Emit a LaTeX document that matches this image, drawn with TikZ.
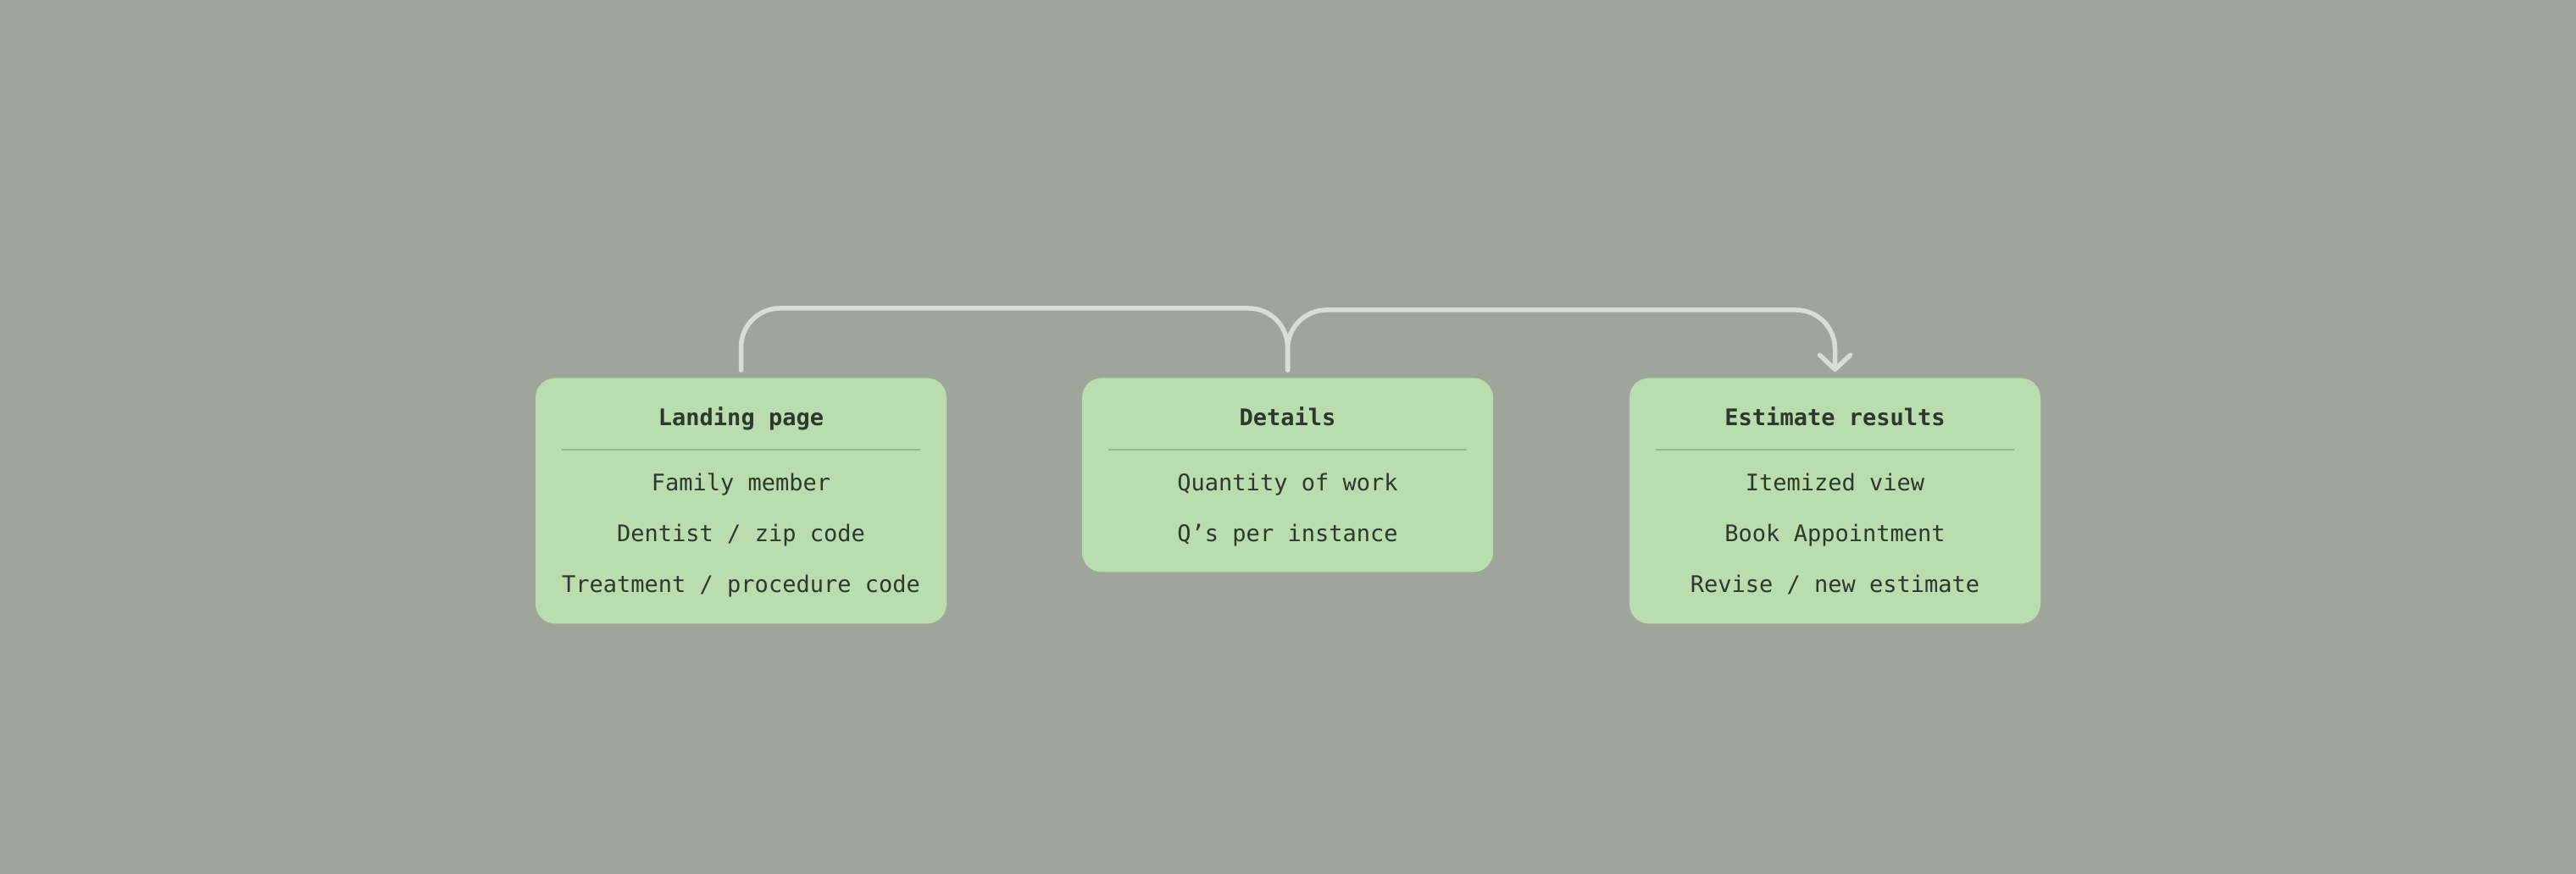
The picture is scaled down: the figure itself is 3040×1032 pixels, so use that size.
\documentclass[tikz,border=0pt]{standalone}
\usepackage{fontspec}
\setmonofont{DejaVu Sans Mono}
\usetikzlibrary{arrows.meta,positioning,calc}

\definecolor{bgsage}{HTML}{9EA59B}
\definecolor{cardgreen}{HTML}{B9DDAE}
\definecolor{rulegreen}{HTML}{97BB8D}
\definecolor{inkdark}{HTML}{2C3A2C}
\definecolor{linkgrey}{HTML}{D8DED6}

\begin{document}
\begin{tikzpicture}[
  x=0.5pt, y=0.5pt,
  font=\ttfamily\fontsize{13.5}{16}\selectfont,
  card/.style={fill=cardgreen, rounded corners=11.5pt, minimum width=242.5pt,
               inner sep=0pt, anchor=north},
  head/.style={anchor=base, text=inkdark, inner sep=0pt,
               font=\ttfamily\bfseries\fontsize{13.5}{16}\selectfont},
  item/.style={anchor=base, text=inkdark, inner sep=0pt},
  rule/.style={draw=rulegreen, line width=0.75pt},
  link/.style={draw=linkgrey, line width=2.75pt, line cap=round, rounded corners=23pt},
  tip/.style={-{Straight Barb[length=8.5pt, width=18pt, round]}}
]
\fill[bgsage] (0,0) rectangle (3040,1032);

\node[card, minimum height=145pt]   (land) at (874.5,586)  {};
\node[card, minimum height=114.5pt] (det)  at (1519.5,586) {};
\node[card, minimum height=145pt]   (est)  at (2165.5,586) {};

\node[head] (land-t) at ([yshift=-28.5pt]land.north) {Landing page};
\node[head] (det-t)  at ([yshift=-28.5pt]det.north)  {Details};
\node[head] (est-t)  at ([yshift=-28.5pt]est.north)  {Estimate results};

\draw[rule] ([shift={(15.5pt,-42.5pt)}]land.north west) -- ([shift={(-15.5pt,-42.5pt)}]land.north east);
\draw[rule] ([shift={(15.5pt,-42.5pt)}]det.north west)  -- ([shift={(-15.5pt,-42.5pt)}]det.north east);
\draw[rule] ([shift={(15.5pt,-42.5pt)}]est.north west)  -- ([shift={(-15.5pt,-42.5pt)}]est.north east);

\node[item] (land-1) at ([yshift=-67pt]land.north)  {Family member};
\node[item] (land-2) at ([yshift=-97pt]land.north)  {Dentist / zip code};
\node[item] (land-3) at ([yshift=-127pt]land.north) {Treatment / procedure code};

\node[item] (det-1) at ([yshift=-67pt]det.north) {Quantity of work};
\node[item] (det-2) at ([yshift=-97pt]det.north) {Q’s per instance};

\node[item] (est-1) at ([yshift=-67pt]est.north)  {Itemized view};
\node[item] (est-2) at ([yshift=-97pt]est.north)  {Book Appointment};
\node[item] (est-3) at ([yshift=-127pt]est.north) {Revise / new estimate};

\draw[link] ([yshift=4.5pt]land.north) -- ++(0,36.5pt) -| ([yshift=4.5pt]det.north);
\draw[link, tip] ([yshift=4.5pt]det.north) -- ++(0,35.5pt) -| ([yshift=3.5pt]est.north);
\end{tikzpicture}
\end{document}
